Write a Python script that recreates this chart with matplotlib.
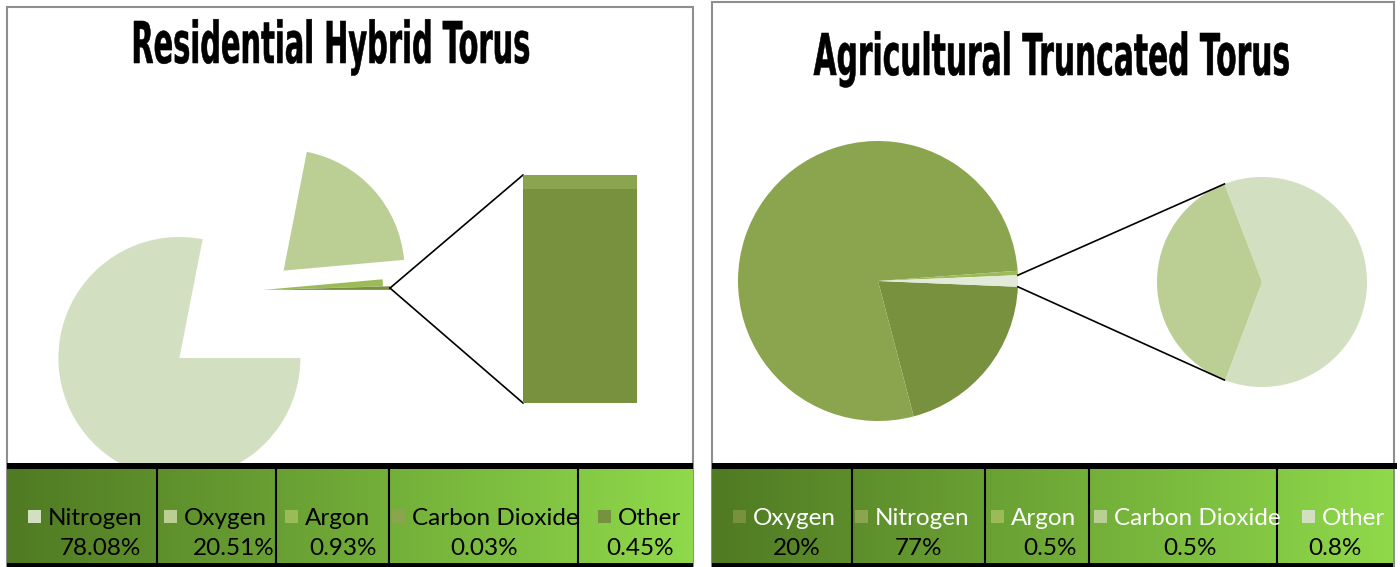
import matplotlib
matplotlib.use("Agg")
import matplotlib.pyplot as plt
import numpy as np
from matplotlib.patches import Rectangle
from matplotlib.patheffects import AbstractPathEffect
from matplotlib.transforms import Affine2D, Bbox, TransformedBbox
from matplotlib.colors import LinearSegmentedColormap

# ---------------------------------------------------------------- data
res_title = "Residential Hybrid Torus"
res_gases = ["Nitrogen", "Oxygen", "Argon", "Carbon Dioxide", "Other"]
res_share = [78.08, 20.51, 0.93, 0.03, 0.45]
res_colors = ["#D3DFC1", "#BBCF95", "#9BBB59", "#8BA54E", "#77913F"]

agr_title = "Agricultural Truncated Torus"
agr_gases = ["Oxygen", "Nitrogen", "Argon", "Carbon Dioxide", "Other"]
agr_share = [20, 77, 0.5, 0.5, 0.8]
agr_colors = ["#77913F", "#8BA54E", "#9BBB59", "#BBCF95", "#D3DFC1"]
agr_split_color = "#E3EADA"

# ---------------------------------------------------------------- canvas
W, H = 1400, 567
fig = plt.figure(figsize=(W / 100, H / 100), dpi=100)
fig.patch.set_facecolor("white")
ax = fig.add_axes([0, 0, 1, 1])


def Y(y):
    """Pixel row (from top) to axes y (from bottom)."""
    return H - y


class TallTitle(AbstractPathEffect):
    """Stretch a centred, baseline-anchored title into a tall narrow face."""

    def __init__(self, axes, anchor, width_px, stretch, stroke=0.4):
        super().__init__()
        self.axes = axes
        self.anchor = anchor
        self.width_px = width_px
        self.stretch = stretch
        self.stroke = stroke

    def draw_path(self, renderer, gc, tpath, affine, rgbFace=None):
        bx, by = self.axes.transData.transform(self.anchor)
        ext = tpath.get_extents(affine)
        sx = self.width_px / max(ext.width, 1)
        shape = affine + (Affine2D().translate(-bx, -by)
                          .scale(sx, self.stretch).translate(bx, by))
        gc0 = renderer.new_gc()
        gc0.copy_properties(gc)
        gc0.set_linewidth(self.stroke)
        gc0.set_foreground(rgbFace)
        gc0.set_joinstyle("miter")
        renderer.draw_path(gc0, tpath, shape, rgbFace)
        gc0.restore()


def draw_title(text, x, y, width_px, cap_px=42, size=20):
    anchor = (x, Y(y))
    font_px = size * 100 / 72
    stretch = cap_px / (0.729 * font_px)
    ax.text(*anchor, text, ha="center", va="baseline", fontsize=size,
            fontweight="bold", family=["DejaVu Sans"], color="black",
            path_effects=[TallTitle(ax, anchor, width_px, stretch)],
            zorder=10)


def wedge_point(w, angle):
    a = np.deg2rad(angle)
    cx, cy = w.center
    return cx + w.r * np.cos(a), cy + w.r * np.sin(a)


# ---------------------------------------------------------------- panels
ax.add_patch(Rectangle((6.5, -5), 686, Y(6.5) + 5, fill=False,
                       edgecolor="#8E8E8E", lw=1.5, zorder=1))
ax.add_patch(Rectangle((711.5, -5), 682, Y(1.5) + 5, fill=False,
                       edgecolor="#8E8E8E", lw=1.5, zorder=1))

# ---------------------------------------------------------------- bar of pie
res_main = res_share[:3] + [res_share[3] + res_share[4]]
res_main_colors = res_colors[:3] + [res_colors[4]]
res_wedges, _ = ax.pie(res_main, colors=res_main_colors, startangle=0,
                       counterclock=False, explode=[107, 29, 0, 7],
                       center=(262, Y(290)), radius=121, frame=True,
                       wedgeprops=dict(linewidth=0))

bax = fig.add_axes([523 / W, (H - 403) / H, 114 / W, 228 / H])
bax.bar(0, res_share[4], width=1, color=res_colors[4], linewidth=0)
bax.bar(0, res_share[3], bottom=res_share[4], width=1, color=res_colors[3],
        linewidth=0)
bax.set_xlim(-0.5, 0.5)
bax.set_ylim(0, res_share[3] + res_share[4])
bax.axis("off")

# ---------------------------------------------------------------- pie of pie
agr_main = agr_share[:3] + [agr_share[3] + agr_share[4]]
agr_main_colors = agr_colors[:3] + [agr_split_color]
half = (agr_main[-1] / 2) / sum(agr_main) * 360
agr_wedges, _ = ax.pie(agr_main, colors=agr_main_colors, startangle=-half,
                       counterclock=False, center=(878, Y(281)), radius=140,
                       frame=True, wedgeprops=dict(linewidth=0))

sub_wedges, _ = ax.pie([agr_share[4], agr_share[3]],
                       colors=[agr_colors[4], agr_colors[3]],
                       startangle=111, counterclock=False,
                       center=(1262, Y(282)), radius=105, frame=True,
                       wedgeprops=dict(linewidth=0))

ax.set_xlim(0, W)
ax.set_ylim(0, H)
ax.set_aspect("auto")
ax.axis("off")

draw_title(res_title, 331, 63, 395)
draw_title(agr_title, 1052, 75, 475)

# connector lines
sw = res_wedges[-1]
tip = wedge_point(sw, (sw.theta1 + sw.theta2) / 2)
to_ax = ax.transData.inverted()
bar_top = to_ax.transform(bax.transAxes.transform((0, 1)))
bar_bot = to_ax.transform(bax.transAxes.transform((0, 0)))
for corner in (bar_top, bar_bot):
    ax.plot([tip[0], corner[0]], [tip[1], corner[1]], color="black", lw=1.2,
            zorder=4)

split = agr_wedges[-1]
sub = sub_wedges[0]
ax.plot(*zip(wedge_point(split, split.theta2), wedge_point(sub, 111)),
        color="black", lw=1.2, zorder=4)
ax.plot(*zip(wedge_point(split, split.theta1), wedge_point(sub, -111)),
        color="black", lw=1.2, zorder=4)


# ---------------------------------------------------------------- tables
def draw_table(edges, gases, shares, colors, swatch_x, value_cx, name_color,
               line_right):
    x0, x1 = edges[0], edges[-1]
    grad = LinearSegmentedColormap.from_list("band", ["#507A23", "#8FD94B"])
    ax.imshow(np.linspace(0, 1, 256)[None, :], cmap=grad,
              extent=[x0, x1, Y(563), Y(469)], aspect="auto", zorder=5)
    ax.add_patch(Rectangle((x0, Y(469)), line_right - x0, 6,
                           color="black", lw=0, zorder=6))
    ax.add_patch(Rectangle((x0, 0), x1 - x0, 4, color="black", lw=0,
                           zorder=6))
    for xe in edges[1:-1]:
        ax.plot([xe, xe], [Y(563), Y(469)], color="black", lw=1.5, zorder=6)
    for i, (gas, val, col) in enumerate(zip(gases, shares, colors)):
        clip = TransformedBbox(Bbox([[edges[i], 0], [edges[i + 1], H]]),
                               ax.transData)
        ax.add_patch(Rectangle((swatch_x[i], Y(523)), 13, 13, color=col,
                               lw=0, zorder=7))
        t = ax.text(swatch_x[i] + 20, Y(525), gas, ha="left", va="baseline",
                    fontsize=17.5, family=["Lato", "DejaVu Sans"],
                    color=name_color, zorder=8)
        t.set_clip_box(clip)
        ax.text(value_cx[i], Y(555), f"{val:g}%", ha="center",
                va="baseline", fontsize=17.5, family=["Lato", "DejaVu Sans"],
                color="black", zorder=8)


draw_table([7, 157, 276, 389, 578, 693], res_gases, res_share, res_colors,
           [28, 164, 285, 392, 598], [100, 234, 343, 484, 640], "black", 693)
draw_table([712, 852, 985, 1089, 1277, 1393], agr_gases, agr_share,
           agr_colors, [733, 855, 991, 1094, 1302],
           [797, 918, 1050, 1190, 1335], "white", 1397)

fig.savefig("out.png", dpi=100, facecolor="white")
